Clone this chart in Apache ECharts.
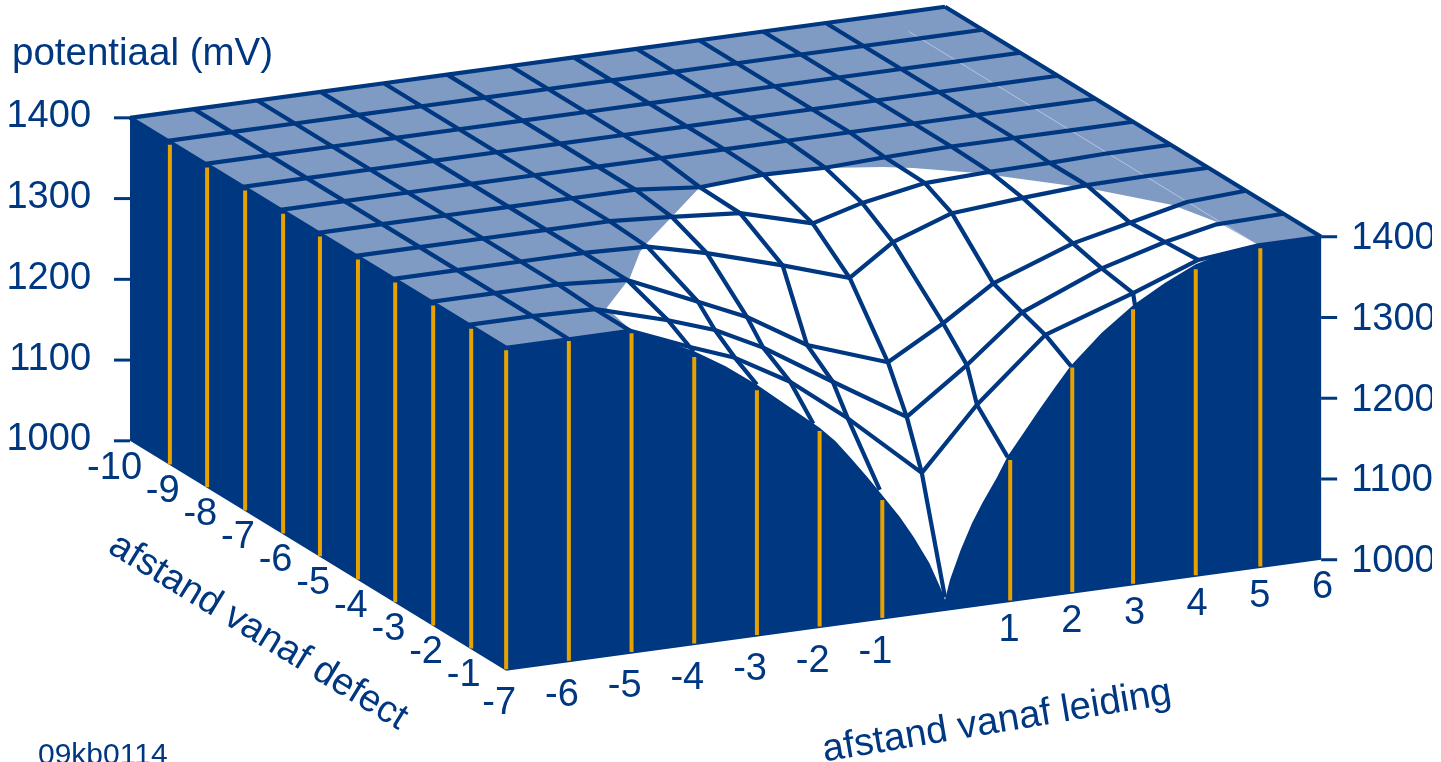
<!DOCTYPE html>
<html>
<head>
<meta charset="utf-8">
<title>potentiaal</title>
<script src="https://cdn.jsdelivr.net/npm/echarts@6/dist/echarts.min.js"></script>
<style>
  html, body { margin: 0; padding: 0; background: #fff; }
  #chart { width: 1441px; height: 762px; }
</style>
</head>
<body>
<div id="chart"></div>
<script>
// tick labels
const potentialTicks = [1000, 1100, 1200, 1300, 1400];
const defectTicks = [-10, -9, -8, -7, -6, -5, -4, -3, -2, -1];
const leidingTicks = [-7, -6, -5, -4, -3, -2, -1, 1, 2, 3, 4, 5, 6];

// rows of the mesh, one per defect distance
const meshDefect = [-10, -9, -8, -7, -6, -5, -4, -3, -2, -1, 0];
const flatLeiding = [-7, -5.98, -4.97, -3.96, -2.95, -1.94, -0.93, 0.08, 1.08, 2.08, 3.1, 4.1, 5, 6];
const flatPotential = [1400, 1400, 1400, 1400, 1400, 1400, 1400, 1400, 1400, 1400, 1400, 1400, 1400, 1400];
const leidingRow5 = [-7, -5.98, -4.97, -3.96, -2.95, -1.94, -0.91, 0.1, 1.09, 2.04, 3.1, 4.1, 5, 6];
const leidingRow4 = [-7, -5.98, -4.97, -3.96, -2.95, -1.96, -0.87, 0.29, 1.08, 2.08, 3.12, 4.07, 5, 6];
const leidingRow3 = [-7, -5.98, -4.97, -3.96, -2.95, -2, -0.79, 0.28, 0.97, 1.91, 3.04, 4.06, 5, 6];
const leidingRow2 = [-7, -5.98, -4.97, -3.87, -2.74, -1.96, -1, 0.29, 1.17, 1.97, 3.24, 4.15, 5.06, 6];
const leidingRow1 = [-7, -5.98, -4.98, -3.82, -3.07, -2.3, -1.19, -0.01, 0.95, 1.83, 3.1, 4.11, 4.91, 6];
const leidingRow0 = [-7, -6, -5.02, -4.07, -3.35, -2.47, -1.55, -0.37, 0.51, 1.6, 3, 4.04, 5, 6];
const potentialRow5 = [1400, 1400, 1400, 1400, 1400, 1400, 1392, 1397, 1395, 1398, 1400, 1400, 1400, 1400];
const potentialRow4 = [1400, 1400, 1400, 1400, 1400, 1395, 1388, 1363, 1380, 1394, 1397, 1398, 1400, 1400];
const potentialRow3 = [1400, 1400, 1400, 1400, 1397, 1379, 1351, 1324, 1361, 1387, 1394, 1399, 1400, 1400];
const potentialRow2 = [1400, 1400, 1400, 1394, 1355, 1328, 1283, 1248, 1287, 1328, 1364, 1380, 1396, 1400];
const potentialRow1 = [1400, 1400, 1398, 1372, 1352, 1322, 1268, 1212, 1266, 1322, 1363, 1385, 1398, 1400];
const potentialRow0 = [1400, 1400, 1400, 1370, 1349, 1310, 1255, 1175, 1250, 1325, 1362, 1392, 1400, 1400];
const meshLeiding = [flatLeiding, flatLeiding, flatLeiding, flatLeiding, flatLeiding, leidingRow5, leidingRow4, leidingRow3, leidingRow2, leidingRow1, leidingRow0];
const meshPotential = [flatPotential, flatPotential, flatPotential, flatPotential, flatPotential, potentialRow5, potentialRow4, potentialRow3, potentialRow2, potentialRow1, potentialRow0];

// the lengthwise mesh lines run on past the last row to the front wall
const edgeColumns = [3, 4, 5, 6, 7, 8, 9, 10];
const edgeLeiding = [-4, -3, -2.1, -1.04, 0, 1, 2.01, 3.03];
const edgePotential = [1364, 1312, 1254, 1161, 1017, 1180, 1282, 1347];
const hiddenColumn = 12; // this line is not drawn in the original

// top profile of the front wall
const wallLeiding = [-7, -6, -5, -4.5, -4, -3.5, -3, -2.5, -2, -1.75, -1.5, -1.25, -1, -0.72, -0.5, -0.25, -0.08, 0, 0.08, 0.25, 0.43, 0.6, 0.83, 1, 1.25, 1.5, 1.75, 2, 2.5, 3, 3.5, 4, 4.5, 5, 6];
const wallPotential = [1400, 1400, 1400, 1383, 1364, 1340, 1312, 1280, 1248, 1229, 1205, 1180, 1154, 1124, 1097, 1062, 1031, 1014, 1038, 1073, 1104, 1128, 1157, 1181, 1207, 1233, 1258, 1282, 1318, 1347, 1369, 1387, 1397, 1400, 1400];

// where the surface leaves the 1400 plateau
const contourLeiding = [-4.84, -3.9, -3.21, -2.93, -2.05, -1.04, 0.04, 0.99, 1.77, 2.14, 2.87, 3.99, 4.74, 4.97, 5];
const contourDefect = [-0.93, -1.88, -2.76, -3.04, -3.85, -4.78, -4.9, -4.85, -4.6, -4.42, -3.93, -2.87, -1.85, -0.98, -0.01];

// orange markers on the two walls
const sideMarkDefect = [-8.94, -7.95, -6.94, -5.93, -4.95, -3.94, -2.95, -1.94, -0.93];
const frontMarkLeiding = [-7, -6, -5, -4, -3, -2, -1, 1.04, 2.03, 3, 4, 5.03];
const frontMarkTop = [1397, 1398, 1397, 1357, 1305, 1244, 1148, 1176, 1280, 1342, 1381, 1396];

const DARK = '#003781';
const LIGHT = '#7f9bc3';
const ORANGE = '#e8a200';
const FAMILY = '"Liberation Sans", Arial, sans-serif';
const FONT = '38px ' + FAMILY;
const TITLE_FONT = '38.5px ' + FAMILY;

const chart = echarts.init(document.getElementById('chart'));

// oblique projection onto the hidden axes
const toScreen = (api, l, d, z) => api.coord([l + 0.6 * d, z + 10.58 * l - 28.48 * d]);

const single = (renderItem) => ({
    type: 'custom',
    coordinateSystem: 'cartesian2d',
    silent: true,
    renderItem,
    data: [[0, 0]]
});
const many = (count, renderItem) => ({
    type: 'custom',
    coordinateSystem: 'cartesian2d',
    silent: true,
    renderItem,
    data: Array.from({ length: count }, (_, i) => [i, i])
});

const polygon = (points, fill) => ({ type: 'polygon', shape: { points }, style: { fill } });
const line = (points, stroke, lineWidth) => ({
    type: 'polyline',
    shape: { points },
    style: { fill: null, stroke, lineWidth, lineJoin: 'round', lineCap: 'butt' }
});
const text = (value, x, y, align) => ({
    type: 'text',
    style: { text: String(value), x, y, align, verticalAlign: 'middle', font: FONT, fill: DARK }
});

const series = [
    // plateau
    single((params, api) => polygon([
        toScreen(api, -7, -10, 1400), toScreen(api, 6, -10, 1400),
        toScreen(api, 6, 0, 1400), toScreen(api, -7, 0, 1400)
    ], LIGHT)),
    // thin seam in the plateau
    single((params, api) => line([toScreen(api, 5, -9.3, 1400), toScreen(api, 5, 0, 1400)], '#b4c5de', 1)),
    // surface below the plateau
    single((params, api) => {
        const pts = contourLeiding.map((l, i) => toScreen(api, l, contourDefect[i], 1400));
        for (let i = wallLeiding.length - 1; i >= 0; i--) {
            if (wallLeiding[i] <= 5 && wallLeiding[i] >= -5) {
                pts.push(toScreen(api, wallLeiding[i], 0, wallPotential[i]));
            }
        }
        return polygon(pts, '#ffffff');
    }),
    // left wall
    single((params, api) => polygon([
        toScreen(api, -7, -10, 1400), toScreen(api, -7, 0, 1400),
        toScreen(api, -7, 0, 1000), toScreen(api, -7, -10, 1000)
    ], DARK)),
    // front wall
    single((params, api) => {
        const pts = wallLeiding.map((l, i) => toScreen(api, l, 0, wallPotential[i]));
        pts.push(toScreen(api, 6, 0, 1000), toScreen(api, -7, 0, 1000));
        return polygon(pts, DARK);
    }),
    // mesh rows
    many(meshDefect.length, (params, api) => {
        const r = params.dataIndex;
        const pts = meshLeiding[r].map((l, k) => toScreen(api, l, meshDefect[r], meshPotential[r][k]));
        return line(pts, DARK, 4.2);
    }),
    // mesh columns
    many(flatLeiding.length, (params, api) => {
        const k = params.dataIndex;
        if (k === hiddenColumn) return null;
        const pts = meshDefect.map((d, r) => toScreen(api, meshLeiding[r][k], d, meshPotential[r][k]));
        const e = edgeColumns.indexOf(k);
        if (e >= 0) pts.push(toScreen(api, edgeLeiding[e], 0, edgePotential[e]));
        return line(pts, DARK, 4.2);
    }),
    // orange marks
    many(sideMarkDefect.length, (params, api) => {
        const d = sideMarkDefect[params.dataIndex];
        return line([toScreen(api, -7, d, 1397), toScreen(api, -7, d, 1001)], ORANGE, 4);
    }),
    many(frontMarkLeiding.length, (params, api) => {
        const l = frontMarkLeiding[params.dataIndex];
        return line([toScreen(api, l, 0, frontMarkTop[params.dataIndex]), toScreen(api, l, 0, 1002)], ORANGE, 4);
    }),
    // potential axes, left and right
    many(potentialTicks.length, (params, api) => {
        const z = potentialTicks[params.dataIndex];
        const a = toScreen(api, -7, -10, z);
        const b = toScreen(api, 6, 0, z);
        return {
            type: 'group',
            children: [
                line([[a[0] - 16, a[1]], a], DARK, 3),
                line([b, [b[0] + 16, b[1]]], DARK, 3),
                text(z, a[0] - 39, a[1] - 1, 'right'),
                text(z, b[0] + 30, b[1] + 2, 'left')
            ]
        };
    }),
    // defect axis labels
    many(defectTicks.length, (params, api) => {
        const d = defectTicks[params.dataIndex];
        const p = toScreen(api, -7, d, 1000);
        return text(d, p[0] + 12, p[1] + 28, 'right');
    }),
    // leiding axis labels
    many(leidingTicks.length, (params, api) => {
        const l = leidingTicks[params.dataIndex];
        const p = toScreen(api, l, 0, 1000);
        return text(l, p[0] + (l < 0 ? 10 : 12), p[1] + (l < 0 ? 33 : 28), 'right');
    })
];

const option = {
    animation: false,
    backgroundColor: '#ffffff',
    grid: { left: 0, right: 0, top: 0, bottom: 0 },
    xAxis: { type: 'value', min: -15.074, max: 7.912, show: false },
    yAxis: { type: 'value', min: 813, max: 1756.66, show: false },
    series,
    graphic: [
        { type: 'text', x: 12, y: 54, z: 100, style: { text: 'potentiaal (mV)', font: TITLE_FONT, fill: DARK, verticalAlign: 'middle' } },
        { type: 'text', x: 258, y: 632, z: 100, rotation: -31.5 * Math.PI / 180, style: { text: 'afstand vanaf defect', font: '38px ' + FAMILY, fill: DARK, align: 'center', verticalAlign: 'middle' } },
        { type: 'text', x: 997, y: 722, z: 100, rotation: 9.5 * Math.PI / 180, style: { text: 'afstand vanaf leiding', font: TITLE_FONT, fill: DARK, align: 'center', verticalAlign: 'middle' } },
        { type: 'text', x: 38, y: 756, z: 100, style: { text: '09kb0114', font: '30px ' + FAMILY, fill: DARK, verticalAlign: 'middle' } },
        // the original is cut off on the right
        { type: 'rect', x: 1432, y: 0, z: 101, shape: { width: 9, height: 762 }, style: { fill: '#ffffff' } }
    ]
};

chart.setOption(option);
</script>
</body>
</html>
